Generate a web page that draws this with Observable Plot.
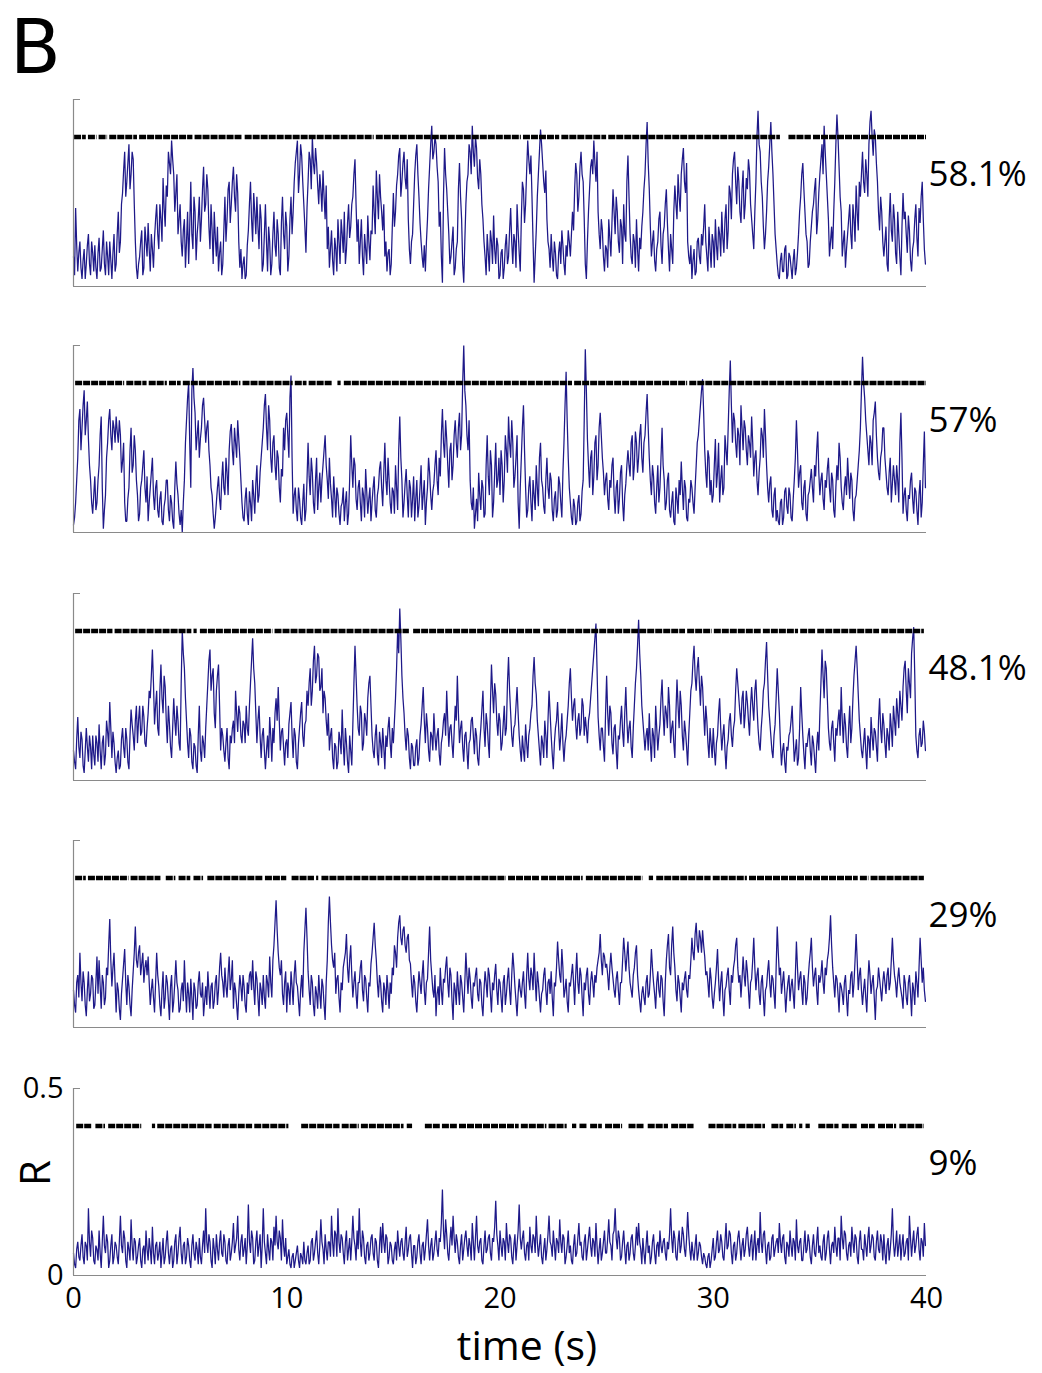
<!DOCTYPE html>
<html>
<head>
<meta charset="utf-8">
<script src="https://cdn.jsdelivr.net/npm/d3@7"></script>
<script src="https://cdn.jsdelivr.net/npm/@observablehq/plot@0.6"></script>
<style>
  body { margin: 0; background: #fff; }
  #fig { position: relative; width: 1042px; height: 1373px; overflow: hidden; font-family: "Open Sans", sans-serif; }
  #fig svg { position: absolute; left: 0; overflow: visible; }
  #letter { position: absolute; left: 10px; top: 4px; font-family: "DejaVu Sans", sans-serif; font-size: 74px; line-height: normal; color: #000; }
</style>
</head>
<body>
<div id="fig"><div id="letter">B</div></div>
<script>
// ---------------- data ----------------
const dt = 0.1;                       // spacing of the samples in each array, seconds
const threshold = 0.4;                // R level of the black event rows
const timeTicks = [0, 10, 20, 30, 40];
const yTicks = [0, 0.5];
const percentLabels = ["58.1%", "57%", "48.1%", "29%", "9%"];

// R traces in hundredths of R. rN: samples at 0, 0.1, 0.2 … s; rNh: samples at 0.05, 0.15, 0.25 … s
const r1 = [
  8,21,4,12,2,10,6,14,3,9, 11,2,13,5,15,3,8,12,2,14, 6,20,12,25,36,28,38,30,34,12, 2,8,15,5,12,17,4,10,13,22,
  10,18,29,16,24,33,39,30,25,14, 22,8,18,12,6,28,10,20,14,24, 18,32,22,26,10,15,20,8,4,12, 6,24,18,28,22,32,20,25,5,2,
  8,3,15,28,12,20,24,10,18,6, 22,4,12,6,20,8,14,3,24,10, 16,8,24,20,33,39,30,35,22,9, 28,34,40,30,33,22,26,31,18,10,
  5,15,3,10,18,6,14,20,10,22, 16,24,34,12,6,18,3,10,19,7, 14,20,31,18,24,15,8,4,10,6, 25,20,30,37,28,36,26,18,6,14,
  30,38,24,12,5,4,18,32,43,36, 38,28,20,1,37,26,14,8,16,5, 12,33,18,1,22,30,36,43,32,37, 26,30,18,8,14,4,12,19,6,11,
  3,10,5,14,8,21,6,12,22,9, 18,26,22,39,30,24,1,15,30,42, 33,25,18,10,14,4,9,2,12,15, 6,11,15,8,20,26,30,24,36,28,
  6,12,26,34,39,28,20,10,15,4, 10,18,8,26,14,20,9,16,22,12, 35,14,6,12,18,4,10,20,30,44, 26,8,15,4,12,20,6,16,26,10,
  14,6,27,18,24,30,37,25,12,6, 2,10,4,13,6,11,22,8,16,5, 12,18,7,14,20,9,22,15,25,30, 36,22,28,17,31,22,26,31,18,10,
  28,47,36,24,10,20,32,44,30,14, 6,2,9,4,11,3,8,2,10,5, 14,24,33,20,12,6,16,22,29,18, 30,38,43,30,18,12,10,28,46,32,
  20,12,5,14,22,10,18,27,15,24, 36,25,30,38,47,35,40,28,15,20, 8,16,4,25,12,18,6,14,3,25, 20,9,15,4,12,22,8,17,28,10
];
const r1h = [
  3,11,9,5,7,2,11,6,12,4, 5,9,4,10,6,12,3,7,9,4, 14,9,22,31,24,33,26,36,22,5, 6,12,3,16,8,10,14,5,18,14,
  22,12,21,27,36,30,34,20,30,18, 12,15,5,20,16,14,24,7,18,12, 26,20,30,16,22,6,13,16,9,3, 15,12,26,17,28,24,30,12,10,6,
  2,11,22,18,25,14,16,22,4,14, 12,16,3,14,11,18,5,17,14,20, 4,18,14,28,36,25,38,28,16,21, 36,26,33,37,27,30,20,24,27,16,
  10,7,13,4,12,18,9,6,17,13, 22,30,22,18,12,8,14,6,12,15, 27,14,24,30,20,22,12,9,3,16, 16,27,35,24,33,29,34,10,12,22,
  35,30,17,8,11,12,26,38,34,40, 32,16,8,24,30,20,6,12,3,10, 26,24,6,12,28,38,30,36,40,29, 34,22,12,3,9,15,6,10,13,2,
  9,2,11,6,15,12,14,5,15,4, 28,17,31,34,35,12,8,24,36,38, 28,31,12,5,8,12,3,9,6,11, 3,8,12,14,15,33,20,32,30,18,
  2,20,32,30,33,36,14,18,8,11, 5,13,17,20,24,12,18,6,14,28, 24,8,14,5,10,13,16,26,38,33, 16,12,7,10,18,11,14,22,17,4,
  10,20,22,30,20,34,28,33,8,11, 7,3,12,8,14,16,12,4,10,14, 5,11,16,8,13,18,10,27,18,34, 28,32,20,26,18,29,34,22,14,20,
  40,38,28,16,14,28,38,36,22,10, 3,7,4,10,2,9,5,7,3,9, 20,30,26,14,5,12,20,26,14,25, 34,30,36,24,8,16,20,38,40,24,
  8,15,10,18,14,22,12,20,28,30, 28,34,24,44,40,42,33,20,24,12, 12,6,18,15,22,9,20,8,16,18, 14,19,7,10,18,13,21,24,18,6
];
const r2 = [
  2,8,20,33,28,38,30,25,14,5, 15,8,18,31,1,10,24,33,22,28, 31,24,26,19,8,3,12,28,18,22, 10,5,14,22,8,3,12,20,6,14,
  4,11,2,9,14,3,8,1,19,10, 2,0,14,30,40,12,44,32,26,20, 28,36,24,30,18,10,1,8,15,6, 19,10,16,22,29,18,24,30,20,8,
  3,12,2,8,14,5,18,10,20,28, 37,22,30,16,26,14,20,8,15,22, 32,20,42,5,12,3,9,2,13,6, 24,10,16,5,20,12,8,18,26,14,
  20,9,15,4,10,2,8,3,11,5, 26,12,18,6,14,3,10,17,5,12, 8,15,4,12,19,7,24,10,14,5, 11,18,6,31,14,8,17,4,12,9,
  3,14,7,18,10,2,12,16,6,13, 22,10,15,33,20,25,12,24,18,30, 20,32,26,50,34,22,14,6,1,9, 16,6,12,5,26,10,18,8,24,14,
  10,18,14,22,31,20,24,15,26,1, 20,34,12,6,15,3,10,18,7,24, 12,5,20,9,14,3,11,6,13,4, 24,43,20,8,2,7,3,10,5,14,
  49,25,12,22,15,26,18,32,20,10, 16,6,12,20,5,14,9,18,3,13, 22,15,26,18,24,20,29,16,26,37, 20,10,15,5,18,12,28,14,8,16,
  4,11,2,9,14,19,6,12,3,8, 12,5,18,26,34,41,22,12,20,14, 10,25,16,8,18,12,22,28,46,24, 30,20,26,34,22,28,18,24,31,15,
  22,10,20,26,33,18,8,15,4,12, 6,2,9,4,12,5,10,3,14,30, 12,18,6,14,3,11,17,8,15,27, 10,16,6,12,20,8,14,4,18,24,
  12,6,15,20,9,14,3,10,18,28, 47,36,26,18,24,30,35,20,14,22, 28,16,10,20,13,14,18,8,32,5, 12,3,9,16,5,11,2,14,8,27
];
const r2h = [
  4,14,30,22,34,26,35,18,8,10, 6,14,26,12,6,20,30,26,30,24, 27,30,16,24,3,9,22,16,26,14, 3,12,18,12,15,8,16,10,12,6,
  9,3,7,14,6,10,3,12,13,5, 6,8,24,36,24,38,36,22,30,25, 34,30,28,22,12,5,4,12,9,14, 12,20,10,27,22,28,20,25,14,4,
  9,5,11,3,10,13,8,16,24,34, 28,34,20,24,18,22,12,17,28,30, 26,36,20,10,6,12,4,8,3,14, 15,20,8,14,6,16,14,22,18,9,
  13,4,10,12,5,7,12,8,2,14, 18,20,9,12,8,12,4,11,9,3, 12,6,10,17,12,16,14,20,8,12, 5,12,22,20,4,13,10,14,4,15,
  9,4,12,6,14,8,20,10,11,18, 14,20,26,24,30,18,22,14,26,24, 28,22,40,38,26,30,8,12,5,3, 10,14,4,18,15,22,4,16,12,20,
  22,8,26,16,24,30,12,20,8,12, 28,22,4,12,8,14,6,12,20,14, 7,14,12,16,6,9,4,15,8,16, 34,30,12,4,9,2,8,3,11,30,
  38,18,20,10,24,14,28,26,16,14, 9,14,18,10,12,5,16,8,10,18, 18,24,14,27,16,26,20,24,32,28, 14,18,8,12,8,20,18,6,14,6,
  8,3,12,5,10,12,14,4,9,14, 8,12,24,30,38,32,16,22,10,8, 18,12,24,14,10,26,18,38,34,32, 24,28,18,28,30,22,26,20,24,20,
  14,16,28,20,26,12,13,6,10,3, 3,8,2,11,7,12,4,9,20,22, 16,8,12,5,10,14,12,18,22,16, 14,9,14,17,12,16,6,12,14,20,
  8,12,10,14,16,6,9,14,22,38, 40,30,22,26,18,32,26,16,20,28, 20,12,16,8,18,10,14,24,20,10, 6,10,14,9,12,6,10,4,18,12
];
const r3 = [
  8,3,17,6,11,2,14,5,9,12, 4,10,15,3,12,7,13,21,6,10, 2,8,4,14,6,11,3,19,12,16, 10,20,13,17,9,18,22,35,15,24,
  12,31,18,25,10,15,6,22,12,16, 8,40,30,16,6,12,3,9,2,20, 5,10,14,26,35,28,18,24,31,8, 12,5,14,3,10,16,24,13,18,10,
  15,20,12,26,38,26,10,20,6,14, 3,12,17,5,10,22,25,8,14,4, 11,15,21,6,12,3,14,21,9,16, 20,30,24,36,28,33,25,18,22,12,
  8,14,3,9,5,11,19,4,10,2, 8,15,36,20,12,18,10,16,22,28, 12,6,15,4,10,14,3,9,17,6, 10,22,40,46,28,18,8,12,3,9,
  4,11,6,15,25,10,14,5,12,18, 8,14,4,12,18,24,9,15,6,20, 28,10,16,5,13,3,11,17,7,12, 4,14,24,9,15,6,31,18,23,12,
  16,10,20,14,33,18,9,15,25,12, 5,8,15,6,14,20,33,23,12,4, 10,16,6,24,12,3,14,21,8,18, 5,12,20,30,16,22,11,18,14,20,
  17,10,18,26,34,42,17,8,14,5, 28,12,18,7,15,3,11,20,9,25, 10,16,6,20,30,43,28,16,8,14, 18,5,12,20,8,15,27,12,18,25,
  10,16,6,27,14,20,8,13,4,18, 26,36,24,33,20,25,12,16,6,10, 14,4,12,22,8,15,3,11,18,9, 16,30,22,15,24,18,21,12,25,16,
  27,14,8,18,26,37,20,12,6,15, 30,18,4,10,2,8,13,20,5,11, 6,25,12,3,9,14,4,10,2,13, 18,35,22,30,14,8,16,5,12,19,
  25,10,15,6,20,14,28,36,23,12, 6,14,3,11,17,8,13,5,22,10, 15,6,12,18,9,16,22,14,20,25, 32,18,26,34,41,12,6,14,10,13
];
const r3h = [
  5,11,9,13,4,8,9,12,3,7, 12,5,8,10,4,16,9,14,13,5, 6,3,11,9,14,5,12,15,8,20, 16,12,20,10,14,24,28,26,20,14,
  24,22,28,16,20,9,14,16,20,10, 26,34,22,10,14,5,10,4,12,8, 12,6,20,32,24,30,14,28,20,14, 8,10,6,12,14,10,18,20,12,16,
  10,14,20,32,30,18,16,12,12,8, 8,6,12,14,18,16,16,13,9,10, 6,18,12,14,5,10,18,12,15,24, 26,20,32,26,34,24,30,24,16,18,
  12,6,10,3,13,7,10,14,5,12, 4,26,28,14,20,8,18,12,26,20, 8,12,7,13,6,9,12,14,10,14, 16,30,34,38,22,12,14,6,10,4,
  9,4,12,20,16,18,8,13,8,12, 12,7,10,16,12,16,14,10,13,16, 18,14,9,12,8,10,16,12,14,6, 10,19,14,18,10,20,24,26,16,18,
  8,15,12,26,24,12,14,20,18,8, 12,5,10,12,18,28,26,16,8,12, 6,12,16,18,7,10,16,14,12,10, 10,16,26,22,20,15,16,12,22,12,
  14,16,22,30,38,30,12,14,9,18, 18,20,10,14,8,12,16,13,18,16, 14,9,14,26,36,34,20,12,12,8, 10,14,6,14,12,22,18,20,14,20,
  14,10,18,20,24,12,16,9,12,24, 32,28,30,26,28,18,20,10,14,6, 8,10,18,14,12,8,9,16,12,14, 24,26,18,22,14,24,16,20,20,24,
  20,10,14,24,32,28,16,8,12,22, 24,10,8,5,9,12,16,12,8,4, 14,18,7,10,12,8,12,6,9,8, 26,28,32,22,10,14,10,14,16,12,
  16,18,9,14,10,22,32,30,16,8, 10,8,12,6,12,14,9,16,14,18, 10,14,8,14,20,12,18,24,16,30, 24,30,22,38,28,8,12,9,16,8
];
const r4 = [
  10,4,14,20,7,12,3,15,9,13, 6,19,18,5,12,8,14,29,11,20, 4,10,2,13,21,6,11,3,15,27, 16,22,17,12,18,19,6,13,4,20,
  11,3,15,8,12,2,14,7,18,10, 5,12,18,4,9,13,2,10,6,15, 8,3,11,15,5,12,7,14,10,20, 12,16,8,19,13,5,10,2,14,7,
  11,4,9,15,18,6,13,3,10,14, 5,12,19,8,22,34,20,14,9,12, 4,10,15,6,18,11,3,14,20,32, 15,6,12,3,9,14,5,11,2,18,
  35,22,16,9,14,4,10,18,25,12, 22,8,15,5,12,18,7,13,4,11, 20,28,18,8,12,4,10,14,5,9, 14,20,24,30,22,27,20,25,17,8,
  12,4,15,9,18,6,13,27,14,8, 3,11,16,6,12,19,8,14,2,10, 15,6,12,4,20,9,13,5,11,16, 7,12,3,15,8,14,4,10,17,6,
  12,4,14,9,16,6,20,11,3,13, 8,15,5,20,10,14,20,7,12,4, 10,16,6,13,15,3,11,23,14,21, 8,13,4,11,17,6,20,9,14,3,
  10,16,6,15,8,12,18,25,14,19, 17,10,20,13,8,15,6,12,24,15, 23,12,8,16,22,10,4,11,6,14, 9,21,12,5,15,8,13,3,18,25,
  14,27,16,7,12,4,10,15,8,13, 24,18,28,20,24,26,19,15,8,13, 5,12,21,7,15,3,11,16,6,12, 18,24,12,8,19,11,15,5,13,24,
  10,16,6,14,3,11,18,8,13,5, 27,14,9,15,4,12,7,13,5,23, 10,15,6,12,8,17,24,11,16,6, 12,18,9,14,20,30,16,8,13,4,
  11,6,14,3,9,15,12,25,10,16, 6,13,4,18,9,14,2,11,13,7, 15,9,16,12,24,14,8,16,10,5, 12,6,14,3,10,15,8,24,12,10
];
const r4h = [
  6,12,8,12,15,6,10,7,14,5, 12,9,11,14,6,16,22,18,16,12, 12,5,9,17,12,14,6,10,20,18, 20,14,20,16,14,12,10,8,12,14,
  6,10,5,14,7,11,4,12,12,4, 10,7,10,12,4,8,12,5,12,9, 12,7,6,10,11,5,12,6,16,14, 8,11,14,10,18,12,6,9,11,14,
  6,12,14,10,11,15,8,12,6,8, 14,8,12,18,28,26,16,18,6,15, 12,6,11,14,12,7,10,8,26,24, 10,14,6,11,5,9,13,6,12,28,
  28,18,20,13,8,12,16,20,16,18, 14,12,9,12,16,10,14,8,12,17, 24,22,12,14,7,12,6,10,12,16, 22,16,28,24,26,22,24,18,12,14,
  7,10,12,14,10,12,20,18,10,14, 9,6,10,13,16,12,16,7,12,6, 10,14,8,12,14,16,8,12,14,9, 13,6,10,12,16,9,12,14,10,13,
  8,12,6,13,10,14,16,7,9,10, 12,9,14,13,16,10,13,15,8,9, 14,10,12,9,8,12,16,18,12,16, 10,7,12,14,12,14,12,16,8,12,
  14,9,12,12,14,16,20,18,20,16, 14,16,16,10,13,10,12,18,20,19, 16,10,14,20,14,7,9,8,12,8, 14,16,9,12,10,14,7,12,22,16,
  22,20,10,14,8,12,13,10,14,18, 20,25,22,26,20,22,14,12,16,8, 9,16,13,12,8,10,14,10,14,16, 22,16,14,13,14,18,10,12,18,16,
  14,9,12,8,10,15,12,14,9,16, 20,16,12,10,9,14,11,9,14,16, 13,10,14,6,13,20,16,14,10,14, 14,12,16,18,24,22,12,14,9,12,
  9,12,8,10,14,8,18,18,14,10, 10,8,12,14,12,8,10,16,10,12, 12,14,10,18,18,12,13,12,8,14, 8,12,9,12,6,12,16,18,16,7
];
const r5 = [
  6,2,9,4,11,3,8,18,5,10, 3,7,12,2,16,6,9,4,11,5, 8,3,16,6,10,2,7,15,4,9, 5,10,2,8,12,4,7,13,3,9,
  6,2,10,5,12,3,8,4,11,6, 13,3,9,5,8,2,11,4,7,10, 3,12,18,6,9,2,7,11,4,12, 5,9,3,10,6,14,8,16,4,11,
  7,3,19,6,10,4,12,8,2,18, 6,11,4,9,13,16,7,10,15,5, 3,7,2,6,4,8,2,5,9,3, 8,4,10,6,12,3,15,7,11,4,
  9,16,5,11,18,6,10,3,12,7, 4,16,8,12,18,5,10,3,9,6, 11,4,9,2,13,14,6,10,5,8, 3,9,12,5,10,4,13,7,11,2,
  8,5,11,3,9,7,15,4,10,6, 12,5,9,23,7,11,4,13,16,6, 9,3,11,7,12,5,8,14,4,16, 6,10,3,12,7,11,4,9,20,8,
  12,5,9,14,6,10,3,11,8,19, 7,12,4,9,13,6,10,16,5,11, 3,10,7,16,8,12,4,9,15,6, 10,5,12,8,3,11,6,14,9,4,
  11,7,13,5,9,14,3,10,6,12, 6,15,8,11,18,7,10,5,12,3, 9,6,11,4,13,14,7,10,3,12, 8,5,11,3,9,12,6,10,4,7,
  18,6,10,4,12,8,11,5,17,7, 9,4,11,6,8,3,5,2,6,4, 10,5,12,7,9,4,14,8,11,3, 9,6,12,4,10,7,13,5,11,8,
  4,10,17,6,12,3,9,5,11,7, 10,14,6,11,3,8,12,5,9,15, 6,10,4,12,7,9,3,11,5,13, 8,4,11,6,12,3,9,13,5,10,
  16,7,11,4,9,13,6,10,3,12, 7,11,5,13,8,10,4,12,6,9, 11,3,10,7,18,5,12,8,4,11, 6,10,16,5,12,8,13,4,9,14
];
const r5h = [
  3,7,5,8,5,9,4,9,12,4, 8,4,6,9,8,11,2,8,3,9, 5,9,8,12,4,9,4,8,10,3, 8,4,7,3,7,10,3,6,8,4,
  9,6,3,9,6,7,2,9,3,10, 6,8,3,10,4,8,6,9,3,5, 8,6,9,11,4,10,3,7,9,6, 11,4,8,4,9,6,10,7,9,5,
  10,8,9,12,3,9,5,11,8,9, 3,7,10,4,8,9,12,4,8,10, 5,3,5,2,6,4,6,3,4,6, 3,9,4,9,6,8,9,3,7,9,
  5,9,12,5,9,11,6,9,4,10, 9,10,4,7,9,12,5,8,4,10, 6,10,4,8,6,9,11,3,9,4, 7,4,8,9,6,9,5,10,6,8,
  3,9,6,8,4,11,8,8,4,9, 7,10,14,12,15,6,9,8,10,11, 5,8,4,10,8,10,4,9,10,8, 9,4,8,6,10,6,10,13,11,4,
  8,10,4,9,11,5,8,4,12,10, 10,6,8,4,8,11,6,9,8,5, 7,4,11,9,5,8,10,6,9,11, 3,8,6,4,8,5,10,8,5,9,
  4,10,8,10,5,8,7,4,9,6, 10,9,4,12,10,12,4,9,7,8, 4,10,6,8,8,9,3,6,8,6, 3,9,6,8,5,8,9,6,9,11,
  10,12,5,9,6,13,7,10,11,4, 6,8,4,9,5,6,3,5,2,7, 4,9,6,11,5,9,7,12,6,8, 4,10,8,8,5,11,8,9,4,12,
  8,6,9,11,7,8,4,10,5,9, 6,9,10,5,9,5,8,10,4,8, 9,4,8,6,11,5,8,6,9,6, 5,9,4,10,7,8,6,8,10,4,
  10,12,6,8,5,9,11,5,9,7, 4,8,10,6,11,5,9,7,11,4, 6,8,4,11,9,8,5,11,8,5, 9,4,10,9,6,11,7,10,5,8
];

// stretches of time (s) where the black event row at R = threshold is drawn
const ev1 = [[0.05,0.6],[0.7,1.1],[1.2,1.6],[1.7,3.0],[3.1,5.6],[5.7,7.9],[8.05,14.1],[14.2,21.0],[21.1,22.8],[22.9,25.0],[25.1,33.15],[33.55,34.6],[34.7,40]];
const ev2 = [[0.1,2.4],[2.5,3.45],[3.55,4.4],[4.5,5.05],[5.15,7.85],[7.95,10.3],[10.4,10.95],[11.05,12.15],[12.4,12.55],[12.7,23.4],[23.5,28.8],[28.9,36.5],[36.6,40]];
const ev3 = [[0.1,1.85],[1.95,5.55],[5.65,5.8],[5.95,9.35],[9.45,15.75],[15.95,21.95],[22.05,28.7],[28.8,29.95],[30.05,32.25],[32.35,34.0],[34.1,34.8],[34.9,37.8],[37.9,39.9]];
const ev4 = [[0.1,0.6],[0.7,2.6],[2.7,4.1],[4.35,4.8],[4.95,5.5],[5.65,6.1],[6.3,8.9],[9.0,10.0],[10.25,11.3],[11.4,11.5],[11.65,20.3],[20.4,21.85],[21.95,23.9],[24.05,26.7],[27.0,27.2],[27.35,29.9],[30.0,31.6],[31.7,36.8],[36.9,37.3],[37.4,39.9]];
const ev5 = [[0.15,0.9],[1.05,1.5],[1.65,3.2],[3.7,3.85],[3.95,6.5],[6.6,8.4],[8.5,10.1],[10.7,12.5],[12.6,13.4],[13.5,15.5],[15.65,15.9],[16.5,17.2],[17.3,18.0],[18.1,20.9],[21.0,22.2],[22.3,23.15],[23.4,23.6],[23.75,24.1],[24.25,24.8],[24.95,25.75],[26.05,26.8],[26.95,27.9],[28.05,29.1],[29.8,31.1],[31.2,32.45],[32.75,33.3],[33.45,33.9],[34.05,34.2],[34.35,34.55],[34.95,35.9],[36.05,36.8],[36.95,37.6],[37.75,38.6],[38.75,39.9]];

// ---------------- drawing ----------------
const traces = [[r1, r1h], [r2, r2h], [r3, r3h], [r4, r4h], [r5, r5h]];
const events = [ev1, ev2, ev3, ev4, ev5];
const panelTops = [99, 345, 593, 840, 1088];   // pixel row of R = 0.5 in each panel
const fig = document.getElementById("fig");
const axisGrey = "#8a8a8a";
const traceColor = "#1e1989";

traces.forEach(([full, half], k) => {
  const last = k === traces.length - 1;
  const pts = full.flatMap((v, i) => [
    { t: i * dt, r: v / 100 },
    { t: (i + 0.5) * dt, r: half[i] / 100 }
  ]);
  const evRows = events[k].map(([a, b]) => ({ a, b, y: threshold }));
  const marks = [
    Plot.lineY(pts, { x: "t", y: "r", stroke: traceColor, strokeWidth: 1.25, strokeLinejoin: "miter" }),
    Plot.ruleY(evRows, { x1: "a", x2: "b", y: "y", stroke: "#000", strokeWidth: 4.5, strokeDasharray: "7,1" }),
    Plot.ruleX([0], { stroke: axisGrey, strokeWidth: 1.2 }),
    Plot.ruleY([0], { stroke: axisGrey, strokeWidth: 1.2 }),
    Plot.axisY({ ticks: [0.5], tickSize: -7, tickFormat: () => "", stroke: axisGrey, label: null }),
    Plot.text([{ x: 40, y: 0.3, label: percentLabels[k] }], {
      x: "x", y: "y", text: "label", textAnchor: "start", lineAnchor: "middle", dx: 2, fontSize: 35, fill: "#000"
    })
  ];
  if (last) {
    marks.push(
      Plot.axisY({ ticks: yTicks, tickSize: 0, tickPadding: 10, fontSize: 29, label: null, tickFormat: d => String(d) }),
      Plot.axisX({ ticks: timeTicks, tickSize: 0, tickPadding: 12, fontSize: 29, label: null }),
      Plot.text([{ x: 20, label: "time (s)" }], { x: "x", text: "label", frameAnchor: "bottom", dx: 27, dy: 71, fontSize: 41, lineAnchor: "middle" }),
      Plot.text([{ label: "R" }], { text: "label", frameAnchor: "left", dx: -37, dy: 4, rotate: -90, fontSize: 42, lineAnchor: "middle" })
    );
  }
  const svg = Plot.plot({
    width: 1042,
    height: last ? 305 : 247,
    marginTop: 20,
    marginBottom: last ? 98 : 40,
    marginLeft: 73,
    marginRight: 116,
    style: { fontFamily: "'Open Sans', sans-serif", color: "#000", background: "transparent" },
    x: { domain: [0, 40], axis: last ? undefined : null },
    y: { domain: [0, 0.5], axis: null },
    marks
  });
  svg.style.top = (panelTops[k] - 20) + "px";
  fig.appendChild(svg);
});
</script>
</body>
</html>
